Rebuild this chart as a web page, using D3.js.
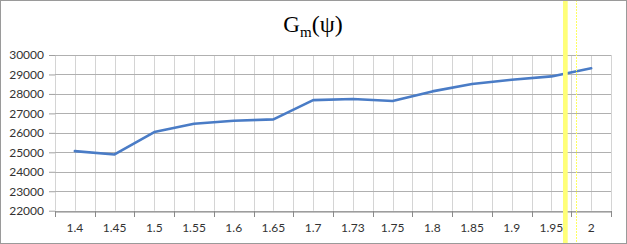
<!DOCTYPE html>
<html><head><meta charset="utf-8">
<script src="https://cdn.jsdelivr.net/npm/d3@7"></script>
<style>
html,body{margin:0;padding:0;background:#fff;}
svg{display:block;}
</style></head>
<body>
<script>
const categories = ["1.4","1.45","1.5","1.55","1.6","1.65","1.7","1.73","1.75","1.8","1.85","1.9","1.95","2"];
const values = [25060,24890,26040,26470,26620,26690,27680,27740,27640,28130,28510,28730,28900,29320];
const yTicks = [22000,23000,24000,25000,26000,27000,28000,29000,30000];

const W = 627, H = 244;
const m = {left:55, right:611, top:55, bottom:210.7};
const svg = d3.select("body").append("svg").attr("width",W).attr("height",H);

svg.append("rect").attr("x",0).attr("y",0).attr("width",W).attr("height",H).attr("fill","#fff");

const x = d3.scaleBand().domain(categories).range([m.left,m.right]).padding(0);
const y = d3.scaleLinear().domain([22000,30000]).range([m.bottom,m.top]);
const bw = x.bandwidth();

// vertical gridlines: band boundaries and centers
const vlines = [];
categories.forEach(c => { vlines.push(x(c)); vlines.push(x(c)+bw/2); });
vlines.push(m.right);
svg.append("g").selectAll("line").data(vlines).join("line")
  .attr("x1",d=>Math.round(d)+0.5).attr("x2",d=>Math.round(d)+0.5)
  .attr("y1",m.top).attr("y2",m.bottom)
  .attr("stroke","#d4d4d4").attr("stroke-width",1);

// horizontal gridlines
svg.append("g").selectAll("line").data(yTicks).join("line")
  .attr("x1",m.left).attr("x2",m.right)
  .attr("y1",d=>Math.round(y(d))+0.5).attr("y2",d=>Math.round(y(d))+0.5)
  .attr("stroke","#b0b0b0").attr("stroke-width",1);

// y axis (labels + ticks)
const yAxis = svg.append("g").attr("transform",`translate(${m.left},0)`)
  .call(d3.axisLeft(y).tickValues(yTicks).tickFormat(d3.format("d")).tickSize(6).tickPadding(5));
yAxis.select(".domain").remove();
yAxis.selectAll(".tick line").attr("stroke","#a0a0a0");
yAxis.selectAll(".tick text").attr("fill","#333").style("font-family","Lato, 'Open Sans', sans-serif").style("font-size","12px");

// x axis
const xAxis = svg.append("g").attr("transform",`translate(0,${Math.round(m.bottom)+0.5})`)
  .call(d3.axisBottom(x).tickSize(0).tickPadding(12));
xAxis.select(".domain").attr("stroke","#8a8a8a");
xAxis.selectAll(".tick text").attr("fill","#333").style("font-family","Lato, 'Open Sans', sans-serif").style("font-size","12px");
// boundary ticks
const bounds = categories.map(c=>x(c)).concat([m.right]);
svg.append("g").selectAll("line").data(bounds).join("line")
  .attr("x1",d=>Math.round(d)+0.5).attr("x2",d=>Math.round(d)+0.5)
  .attr("y1",Math.round(m.bottom)).attr("y2",Math.round(m.bottom)+6)
  .attr("stroke","#8a8a8a");

// line
const line = d3.line().x((d,i)=>x(categories[i])+bw/2).y(d=>y(d));
svg.append("path").datum(values).attr("d",line)
  .attr("fill","none").attr("stroke","#4a7cc6").attr("stroke-width",2.6)
  .attr("stroke-linejoin","round").attr("stroke-linecap","round");

// title
const t = svg.append("text").attr("x",313).attr("y",32).attr("text-anchor","middle")
  .style("font-family","'Liberation Serif','Times New Roman',serif").attr("fill","#000");
t.append("tspan").style("font-size","23px").text("G");
t.append("tspan").style("font-size","15px").attr("dy",5).text("m");
t.append("tspan").style("font-size","24px").attr("dy",-5).text("(ψ)");

// yellow highlight artifacts
svg.append("rect").attr("x",563).attr("y",0).attr("width",4.7).attr("height",H).attr("fill","#ffff78");
svg.append("line").attr("x1",576.5).attr("x2",576.5).attr("y1",0).attr("y2",H)
  .attr("stroke","#ffff60").attr("stroke-dasharray","2,1");

// frame
svg.append("rect").attr("x",0.5).attr("y",0.5).attr("width",626).attr("height",243)
  .attr("fill","none").attr("stroke","#9a9a9a");
</script>
</body></html>
